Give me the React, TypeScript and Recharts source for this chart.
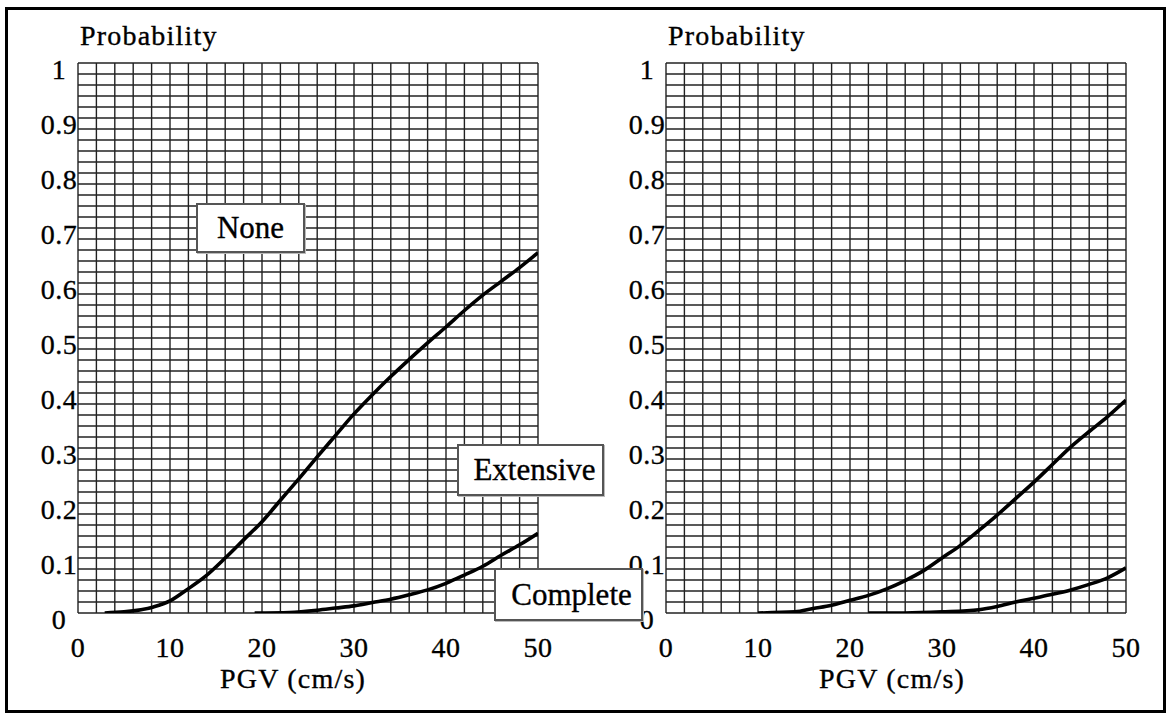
import { CartesianGrid, Line, LineChart, XAxis, YAxis } from 'recharts'

// PGV (cm/s) and probability
const LEFT_UPPER_PGV = [2.9, 5, 8.2, 10, 11.8, 13.8, 16, 18, 20, 22, 24, 26, 28, 30, 32, 34, 36, 38, 40, 42, 44, 46, 48, 50]
const LEFT_UPPER_P = [0, 0.002, 0.011, 0.022, 0.042, 0.066, 0.1, 0.133, 0.166, 0.205, 0.244, 0.284, 0.323, 0.362, 0.397, 0.43, 0.461, 0.491, 0.52, 0.55, 0.578, 0.603, 0.628, 0.655]

const LEFT_LOWER_PGV = [19.2, 23, 26, 28, 30, 32, 34, 36, 38, 40, 42, 44, 46, 48, 50]
const LEFT_LOWER_P = [0, 0.001, 0.005, 0.009, 0.013, 0.019, 0.025, 0.033, 0.042, 0.054, 0.069, 0.085, 0.105, 0.124, 0.145]

const RIGHT_UPPER_PGV = [10, 14, 16, 18, 20, 22, 24, 26, 28, 30, 32, 34, 36, 38, 40, 42, 44, 46, 48, 50]
const RIGHT_UPPER_P = [0, 0.002, 0.008, 0.014, 0.023, 0.032, 0.044, 0.059, 0.077, 0.1, 0.123, 0.15, 0.178, 0.208, 0.238, 0.27, 0.302, 0.33, 0.357, 0.387]

const RIGHT_LOWER_PGV = [22, 26, 30, 34, 36, 38, 40, 42, 44, 46, 48, 50]
const RIGHT_LOWER_P = [0, 0, 0.002, 0.006, 0.012, 0.02, 0.027, 0.034, 0.042, 0.052, 0.064, 0.082]

// grid: 2 cm/s columns, 0.02 rows; labels every 10 / 0.1
const X_TICKS = Array.from({ length: 26 }, (_, i) => i * 2)
const Y_TICKS = Array.from({ length: 51 }, (_, i) => i / 50)
const X_LABELS = ['0', '10', '20', '30', '40', '50']
const Y_LABELS = ['0', '0.1', '0.2', '0.3', '0.4', '0.5', '0.6', '0.7', '0.8', '0.9', '1']

const DAMAGE_LABELS = ['None', 'Extensive', 'Complete']

const FONT = '"Liberation Serif", "Times New Roman", serif'

const toRows = (xs: number[], ys: number[]) => xs.map((pgv, i) => ({ pgv, p: ys[i] }))

function XTick(props: any) {
  const { x, y, payload } = props
  const v = payload.value
  if (v % 10 !== 0) return null
  return (
    <text
      x={x}
      y={y + 44}
      textAnchor="middle"
      fontSize={28}
      fontFamily={FONT}
      letterSpacing={0.5}
      fill="#000"
      stroke="#000"
      strokeWidth={0.35}
    >
      {X_LABELS[v / 10]}
    </text>
  )
}

function YTick(props: any) {
  const { x, y, payload } = props
  const k = Math.round(payload.value * 50)
  if (k % 5 !== 0) return null
  return (
    <text
      x={x - 19}
      y={y + 16}
      textAnchor="middle"
      fontSize={28}
      fontFamily={FONT}
      letterSpacing={0.5}
      fill="#000"
      stroke="#000"
      strokeWidth={0.35}
    >
      {Y_LABELS[k / 5]}
    </text>
  )
}

function Panel({ left, series }: { left: number; series: { pgv: number; p: number }[][] }) {
  return (
    <div style={{ position: 'absolute', left, top: 0 }}>
      <LineChart width={560} height={720} margin={{ top: 63, right: 22, bottom: 0, left: 0 }}>
        <CartesianGrid stroke="#222" strokeWidth={1.4} />
        <XAxis
          type="number"
          dataKey="pgv"
          domain={[0, 50]}
          ticks={X_TICKS}
          interval={0}
          height={107}
          tickSize={0}
          tickMargin={0}
          axisLine={false}
          tickLine={false}
          tick={<XTick />}
          allowDataOverflow
        />
        <YAxis
          type="number"
          domain={[0, 1]}
          ticks={Y_TICKS}
          interval={0}
          width={78}
          tickSize={0}
          tickMargin={0}
          axisLine={false}
          tickLine={false}
          tick={<YTick />}
          allowDataOverflow
        />
        {series.map((d, i) => (
          <Line
            key={i}
            data={d}
            dataKey="p"
            type="monotone"
            stroke="#000"
            strokeWidth={3.6}
            dot={false}
            isAnimationActive={false}
          />
        ))}
      </LineChart>
    </div>
  )
}

const boxStyle = (left: number, top: number, width: number, height: number, pad: number) => ({
  position: 'absolute' as const,
  left,
  top,
  width,
  height,
  boxSizing: 'border-box' as const,
  border: '2px solid #555',
  boxShadow: '1px 1px 0 #bbb',
  background: '#fff',
  display: 'flex',
  alignItems: 'center',
  justifyContent: 'center',
  paddingLeft: pad,
  fontFamily: FONT,
  fontSize: 31,
  color: '#000',
  WebkitTextStroke: '0.35px #000',
})

export default function App() {
  return (
    <div style={{ position: 'absolute', left: 0, top: 0, width: 1171, height: 720, background: '#fff' }}>
      <div
        style={{
          position: 'absolute',
          left: 5,
          top: 7,
          width: 1161,
          height: 706,
          border: '3px solid #000',
          boxSizing: 'border-box',
        }}
      />
      <Panel left={0} series={[toRows(LEFT_UPPER_PGV, LEFT_UPPER_P), toRows(LEFT_LOWER_PGV, LEFT_LOWER_P)]} />
      <Panel left={588} series={[toRows(RIGHT_UPPER_PGV, RIGHT_UPPER_P), toRows(RIGHT_LOWER_PGV, RIGHT_LOWER_P)]} />

      <div style={boxStyle(196, 203, 109, 50, 0)}>{DAMAGE_LABELS[0]}</div>
      <div style={boxStyle(457, 444, 147, 52, 8)}>{DAMAGE_LABELS[1]}</div>
      <div style={boxStyle(494, 568, 149, 53, 6)}>{DAMAGE_LABELS[2]}</div>

      <svg width={1171} height={720} style={{ position: 'absolute', left: 0, top: 0, pointerEvents: 'none' }}>
        <g fontFamily={FONT} fontSize={28} fill="#000" stroke="#000" strokeWidth={0.35} letterSpacing={1.2}>
          <text x={80} y={45}>Probability</text>
          <text x={668} y={45}>Probability</text>
          <text x={293} y={688} textAnchor="middle">PGV (cm/s)</text>
          <text x={892} y={688} textAnchor="middle">PGV (cm/s)</text>
        </g>
      </svg>
    </div>
  )
}
